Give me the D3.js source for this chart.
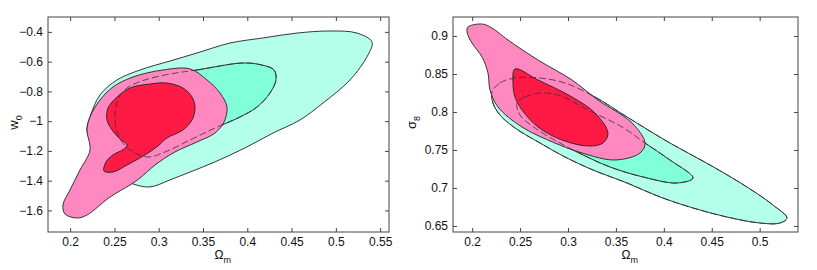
<!DOCTYPE html>
<html>
<head>
<meta charset="utf-8">
<script src="https://cdn.jsdelivr.net/npm/d3@7"></script>
<style>
  body { margin: 0; background: #fff; }
  text { font-family: "Liberation Sans", Arial, sans-serif; fill: #111; }
</style>
</head>
<body>
<div id="chart"></div>
<script>
'use strict';

// tick values
const omTicksLeft = [0.2, 0.25, 0.3, 0.35, 0.4, 0.45, 0.5, 0.55];
const w0Ticks = [-1.6, -1.4, -1.2, -1, -0.8, -0.6, -0.4];
const omTicksRight = [0.2, 0.25, 0.3, 0.35, 0.4, 0.45, 0.5];
const s8Ticks = [0.65, 0.7, 0.75, 0.8, 0.85, 0.9];

// left panel contours [Omega_m, w0]
const w0Outer2 = [[0.219,-1.059],[0.2224,-0.972],[0.2337,-0.824],[0.2529,-0.723],[0.2789,-0.656],[0.3127,-0.596],
  [0.3432,-0.542],[0.3805,-0.475],[0.4177,-0.441],[0.4561,-0.408],[0.4934,-0.394],[0.5239,-0.408],[0.5408,-0.468],
  [0.5363,-0.555],[0.516,-0.723],[0.4855,-0.878],[0.4595,-0.992],[0.429,-1.08],[0.3974,-1.18],[0.3635,-1.274],
  [0.3353,-1.342],[0.3127,-1.395],[0.2902,-1.442],[0.271,-1.422],[0.2506,-1.362],[0.2371,-1.295],[0.2258,-1.174]];
const w0Outer1 = [[0.3127,-0.683],[0.3432,-0.656],[0.3952,-0.609],[0.4166,-0.623],[0.4302,-0.656],[0.4324,-0.723],
  [0.4256,-0.811],[0.411,-0.905],[0.3918,-0.972],[0.3635,-1.046],[0.3353,-1.127],[0.3071,-1.207],[0.2879,-1.241],
  [0.2676,-1.194],[0.2552,-1.106],[0.2506,-0.972],[0.254,-0.858],[0.2642,-0.777],[0.2845,-0.723]];
const w0Inner2 = [[0.219,-1.059],[0.2224,-0.972],[0.2337,-0.858],[0.2484,-0.77],[0.271,-0.703],[0.3048,-0.656],
  [0.3353,-0.649],[0.3545,-0.723],[0.3692,-0.811],[0.3771,-0.905],[0.3737,-1.006],[0.3635,-1.08],[0.3432,-1.14],
  [0.3184,-1.207],[0.2958,-1.295],[0.2789,-1.382],[0.2676,-1.429],[0.245,-1.51],[0.219,-1.631],[0.2077,-1.651],
  [0.1942,-1.624],[0.1919,-1.563],[0.1998,-1.463],[0.2111,-1.328],[0.2224,-1.194]];
const w0Inner1 = [[0.2676,-0.777],[0.2902,-0.75],[0.3093,-0.744],[0.3274,-0.777],[0.3376,-0.838],[0.341,-0.912],
  [0.3376,-0.992],[0.3274,-1.059],[0.3093,-1.113],[0.2992,-1.167],[0.2845,-1.227],[0.2642,-1.295],[0.2484,-1.342],
  [0.2382,-1.335],[0.2405,-1.274],[0.2484,-1.227],[0.2608,-1.187],[0.2642,-1.16],[0.2563,-1.12],[0.2473,-1.059],
  [0.2416,-0.992],[0.2427,-0.912],[0.2518,-0.844]];

// right panel contours [Omega_m, sigma8]
const s8Outer2 = [[0.2207,0.8263],[0.229,0.8381],[0.2447,0.8447],[0.2708,0.8447],[0.2969,0.8381],[0.3282,0.8197],
  [0.3616,0.7934],[0.4064,0.7591],[0.4482,0.7302],[0.4868,0.7012],[0.5139,0.6775],[0.5285,0.6604],[0.5212,0.6538],
  [0.5004,0.6538],[0.4659,0.6617],[0.4304,0.6736],[0.396,0.6881],[0.3616,0.7065],[0.3261,0.7236],[0.2969,0.7407],
  [0.2708,0.7591],[0.2447,0.7789],[0.229,0.796],[0.2217,0.8118]];
const s8Outer1 = [[0.2468,0.8118],[0.2551,0.8197],[0.2708,0.825],[0.2896,0.8223],[0.3209,0.8026],[0.3564,0.7802],
  [0.3804,0.7591],[0.4064,0.7368],[0.4304,0.7131],[0.4137,0.7065],[0.3783,0.7144],[0.3438,0.7276],[0.3157,0.7434],
  [0.2917,0.7591],[0.2656,0.7789],[0.2499,0.796]];
const s8Inner2 = [[0.1957,0.9118],[0.2103,0.9158],[0.2207,0.9105],[0.2374,0.8947],[0.2687,0.8684],[0.3042,0.8421],
  [0.3313,0.8157],[0.3668,0.7855],[0.3804,0.7591],[0.3751,0.746],[0.349,0.7368],[0.3146,0.746],[0.2864,0.7591],
  [0.252,0.7802],[0.227,0.8065],[0.2186,0.8289],[0.2165,0.8513],[0.2103,0.8723],[0.1998,0.8908],[0.1946,0.9053]];
const s8Inner1 = [[0.2447,0.8566],[0.2687,0.8421],[0.3042,0.8197],[0.3282,0.7986],[0.3417,0.7723],[0.3365,0.7591],
  [0.3209,0.7552],[0.2937,0.7631],[0.2687,0.7802],[0.252,0.8026],[0.2447,0.8197],[0.2426,0.8381]];

const colors = { outer2: '#b3ffea', outer1: '#80ffd9', inner2: '#ff88c1', inner1: '#ff1a45' };

const width = 817, height = 270;
const svg = d3.select('#chart').append('svg')
  .attr('width', width)
  .attr('height', height);

const panels = [
  {
    left: 48, right: 389, top: 17, bottom: 232,
    xDomain: [0.175, 0.56], yDomain: [-1.745, -0.3],
    xTicks: omTicksLeft, yTicks: w0Ticks,
    yName: 'w', ySub: '0', yNameX: 18,
    shapes: [w0Outer2, w0Outer1, w0Inner2, w0Inner1],
    dashed: [w0Outer1]
  },
  {
    left: 453, right: 798, top: 17, bottom: 232,
    xDomain: [0.18, 0.54], yDomain: [0.642, 0.925],
    xTicks: omTicksRight, yTicks: s8Ticks,
    yName: 'σ', ySub: '8', yNameX: 416,
    shapes: [s8Outer2, s8Outer1, s8Inner2, s8Inner1],
    dashed: [s8Outer2, s8Outer1]
  }
];

const fills = [colors.outer2, colors.outer1, colors.inner2, colors.inner1];
const fmt = d3.format('~g');

panels.forEach((p, i) => {
  const x = d3.scaleLinear().domain(p.xDomain).range([p.left, p.right]);
  const y = d3.scaleLinear().domain(p.yDomain).range([p.bottom, p.top]);

  const line = d3.line()
    .x(d => x(d[0]))
    .y(d => y(d[1]))
    .curve(d3.curveCatmullRomClosed.alpha(0.5));

  const g = svg.append('g').attr('class', 'panel' + i);

  // filled regions, outer first
  g.selectAll('.region')
    .data(p.shapes)
    .enter()
    .append('path')
    .attr('class', 'region')
    .attr('d', line)
    .attr('fill', (d, k) => fills[k])
    .attr('stroke', '#222')
    .attr('stroke-width', 0.9);

  // hidden parts of the other contours
  g.selectAll('.dash')
    .data(p.dashed)
    .enter()
    .append('path')
    .attr('class', 'dash')
    .attr('d', line)
    .attr('fill', 'none')
    .attr('stroke', '#333')
    .attr('stroke-width', 0.8)
    .attr('stroke-dasharray', '7,3');

  // axes, ticks pointing inside
  const axisStyle = (sel) => {
    sel.select('.domain').remove();
    sel.selectAll('.tick line').attr('stroke', '#444');
    sel.selectAll('.tick text').attr('font-size', 12).attr('fill', '#111')
      .style('font-family', '"Liberation Sans", Arial, sans-serif');
  };

  g.append('g')
    .attr('transform', `translate(0,${p.bottom})`)
    .call(d3.axisBottom(x).tickValues(p.xTicks).tickFormat(fmt).tickSizeInner(-4).tickSizeOuter(0).tickPadding(5))
    .call(axisStyle);
  g.append('g')
    .attr('transform', `translate(0,${p.top})`)
    .call(d3.axisTop(x).tickValues(p.xTicks).tickFormat('').tickSizeInner(-4).tickSizeOuter(0))
    .call(axisStyle);
  g.append('g')
    .attr('transform', `translate(${p.left},0)`)
    .call(d3.axisLeft(y).tickValues(p.yTicks).tickFormat(fmt).tickSizeInner(-4).tickSizeOuter(0).tickPadding(5))
    .call(axisStyle);
  g.append('g')
    .attr('transform', `translate(${p.right},0)`)
    .call(d3.axisRight(y).tickValues(p.yTicks).tickFormat('').tickSizeInner(-4).tickSizeOuter(0))
    .call(axisStyle);

  g.append('rect')
    .attr('x', p.left)
    .attr('y', p.top)
    .attr('width', p.right - p.left)
    .attr('height', p.bottom - p.top)
    .attr('fill', 'none')
    .attr('stroke', '#444')
    .attr('stroke-width', 1);

  // x label: Omega_m
  const xl = g.append('text')
    .attr('x', (p.left + p.right) / 2 - 4)
    .attr('y', 259)
    .attr('font-size', 12);
  xl.append('tspan').text('Ω');
  xl.append('tspan').attr('dy', 4).attr('font-size', 9).text('m');

  // y label
  const cy = (p.top + p.bottom) / 2 - 2;
  const yl = g.append('text')
    .attr('transform', `translate(${p.yNameX},${cy}) rotate(-90)`)
    .attr('text-anchor', 'middle')
    .attr('font-size', 13);
  yl.append('tspan').text(p.yName);
  yl.append('tspan').attr('dy', 4).attr('font-size', 9).text(p.ySub);
});
</script>
</body>
</html>
